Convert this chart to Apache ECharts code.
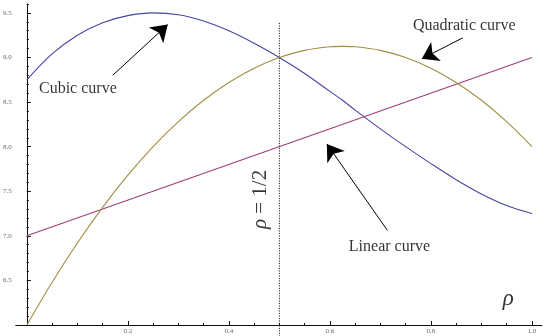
<!DOCTYPE html>
<html>
<head>
<meta charset="utf-8">
<script src="https://cdn.jsdelivr.net/npm/echarts@6/dist/echarts.min.js"></script>
<style>
  html,body{margin:0;padding:0;background:#fff;}
  #chart{width:555px;height:336px;}
</style>
</head>
<body>
<div id="chart"></div>
<script>
// values
var rho      = [0,0.05,0.1,0.15,0.2,0.25,0.3,0.35,0.4,0.45,0.5,0.55,0.6,0.625,0.65,0.7,0.75,0.8,0.85,0.9,0.95,1.0];
var cubicY   = [8.75,9.04,9.25,9.39,9.47,9.5,9.48,9.41,9.3,9.16,9.0,8.82,8.62,8.52,8.41,8.2,8.0,7.81,7.63,7.47,7.34,7.25];
var quadY    = [6.0,6.48,6.92,7.32,7.68,8.0,8.28,8.52,8.72,8.88,9.0,9.08,9.12,9.125,9.12,9.08,9.0,8.88,8.72,8.52,8.28,8.0];
var linearX  = [0,1];
var linearY  = [7,9];
var xTicks   = [0.2,0.4,0.6,0.8,1.0];
var yTicks   = [6.5,7.0,7.5,8.0,8.5,9.0,9.5];
var markRho  = 0.5;

var SERIF = "'Liberation Serif','DejaVu Serif',serif";
function pairs(xs, ys){ return xs.map(function(x,i){ return [x, ys[i]]; }); }
function steps(a, b, d){ var out=[]; for(var v=a; v<=b+1e-9; v+=d) out.push(+v.toFixed(3)); return out; }

var ch = echarts.init(document.getElementById("chart"), null, {renderer:"canvas"});

var axLine = {show:true, onZero:true, lineStyle:{color:"#111", width:1}};
var lblStyle = {color:"#666", fontSize:7, fontFamily:SERIF};

function label(text, x, y, size, extra){
  var l = {show:true, position:"inside", formatter:text, color:"#000",
           fontSize:size, fontFamily:SERIF};
  for(var k in extra) l[k]=extra[k];
  return {value:[x,y], label:l};
}

ch.setOption({
  animation:false,
  backgroundColor:"#fff",
  grid:{left:15, right:13, top:4, bottom:11, containLabel:false},
  xAxis:[{
    type:"value", min:-0.022, max:1.02, position:"bottom",
    axisLine:axLine,
    axisTick:{show:true, inside:true, length:4, customValues:xTicks, lineStyle:{color:"#111"}},
    axisLabel:Object.assign({customValues:xTicks, margin:3,
      formatter:function(v){ return (+v).toFixed(1); }}, lblStyle),
    splitLine:{show:false}
  },{
    type:"value", min:-0.022, max:1.02, position:"bottom",
    axisLine:{show:false},
    axisTick:{show:true, inside:true, length:2, customValues:steps(0.05,1,0.05), lineStyle:{color:"#111"}},
    axisLabel:{show:false}, splitLine:{show:false}
  }],
  yAxis:[{
    type:"value", min:6, max:9.6, position:"left",
    axisLine:axLine,
    axisTick:{show:true, inside:true, length:4, customValues:[6.0].concat(yTicks), lineStyle:{color:"#111"}},
    axisLabel:Object.assign({customValues:yTicks, margin:4,
      formatter:function(v){ return (+v).toFixed(1); }}, lblStyle),
    splitLine:{show:false}
  },{
    type:"value", min:6, max:9.6, position:"left",
    axisLine:{show:false, onZero:true},
    axisTick:{show:true, inside:true, length:2, customValues:steps(6.1,9.6,0.1), lineStyle:{color:"#111"}},
    axisLabel:{show:false}, splitLine:{show:false}
  }],
  series:[
    { type:"line", name:"Cubic", data:pairs(rho,cubicY), smooth:0.35, showSymbol:false,
      lineStyle:{color:"#4545a3", width:1.1}, silent:true },
    { type:"line", name:"Linear", data:pairs(linearX,linearY), showSymbol:false,
      lineStyle:{color:"#a03f78", width:1.1}, silent:true },
    { type:"line", name:"Quadratic", data:pairs(rho,quadY), smooth:0.35, showSymbol:false,
      lineStyle:{color:"#9f8f42", width:1.1}, silent:true },
    { type:"line", name:"rho", data:[[markRho,5.87],[markRho,9.39]], showSymbol:false, clip:false,
      lineStyle:{color:"#222", width:1, type:[1.2,1.3]}, silent:true },
    { type:"lines", coordinateSystem:"cartesian2d", silent:true,
      symbol:["none","arrow"], symbolSize:[0,16],
      lineStyle:{color:"#000", width:1, opacity:1},
      itemStyle:{color:"#000"},
      data:[
        {coords:[[0.170,8.80],[0.279,9.37]]},
        {coords:[[0.863,9.22],[0.782,8.985]]},
        {coords:[[0.714,7.06],[0.594,8.03]]}
      ] },
    { type:"scatter", silent:true, symbolSize:1, itemStyle:{color:"rgba(0,0,0,0)"},
      data:[
        label("Cubic curve", 0.101, 8.652, 16),
        label("Quadratic curve", 0.866, 9.352, 16),
        label("Linear curve", 0.718, 6.873, 16),
        label("ρ", 0.953, 6.287, 23, {fontStyle:"italic"}),
        label("{i|ρ} = 1/2", 0.462, 7.408, 21, {rotate:90,
          rich:{i:{fontStyle:"italic", fontSize:21, fontFamily:SERIF, color:"#000"}}})
      ] }
  ]
});
</script>
</body>
</html>
